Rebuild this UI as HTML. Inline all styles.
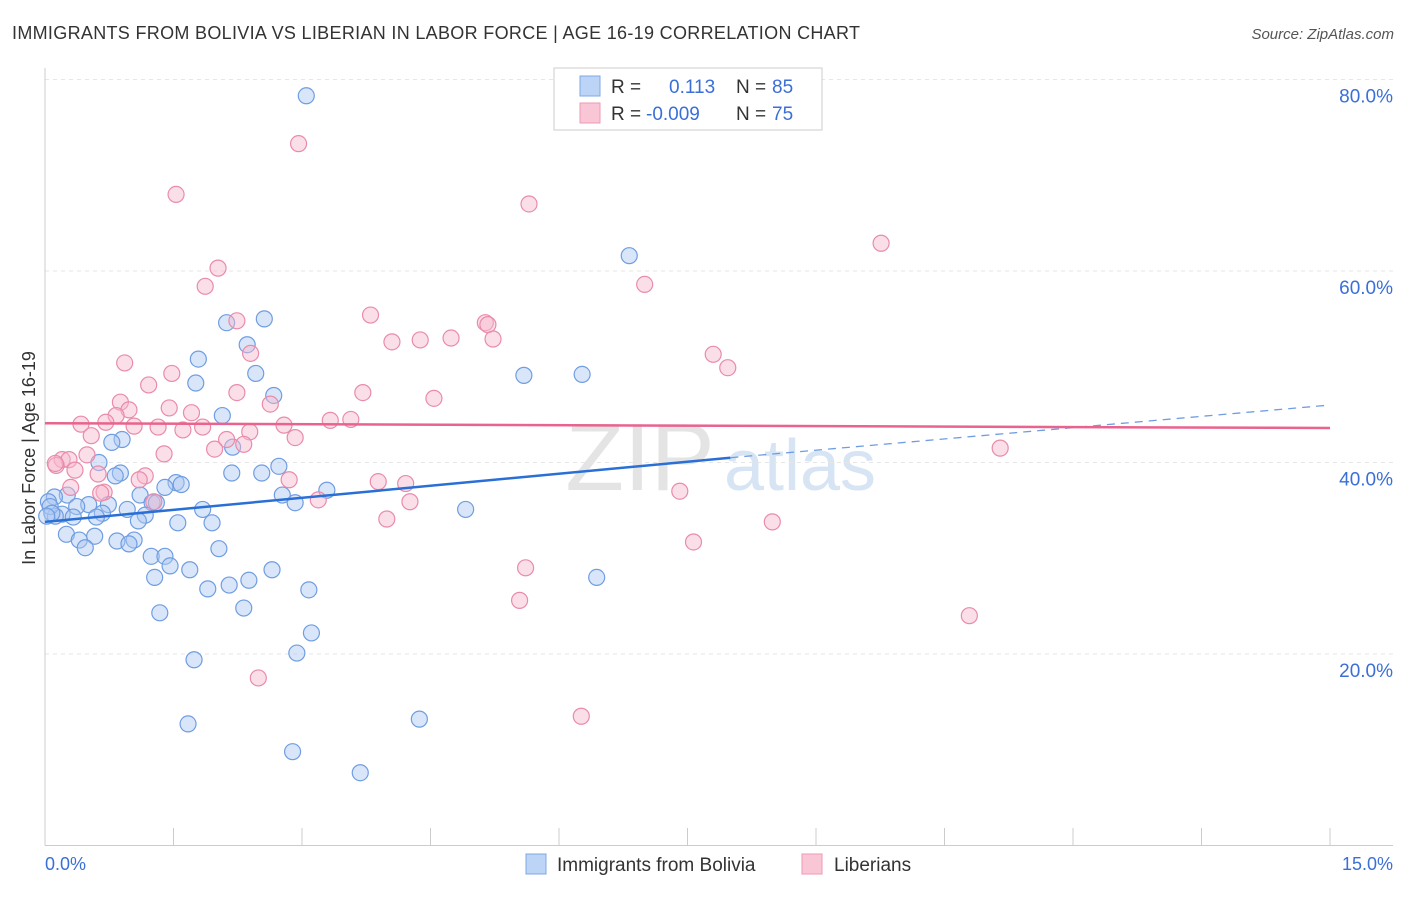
<!DOCTYPE html>
<html><head><meta charset="utf-8"><style>
body{margin:0;background:#fff;font-family:"Liberation Sans",sans-serif;}
svg text{font-family:"Liberation Sans",sans-serif;}
</style></head><body>
<svg id="chart" width="1406" height="892" xmlns="http://www.w3.org/2000/svg">
<text x="12" y="39" font-size="18" fill="#333" textLength="848" lengthAdjust="spacing">IMMIGRANTS FROM BOLIVIA VS LIBERIAN IN LABOR FORCE | AGE 16-19 CORRELATION CHART</text>
<text x="1394" y="39" font-size="15" fill="#555" font-style="italic" text-anchor="end">Source: ZipAtlas.com</text>
<text x="640" y="490" font-size="96" fill="#e4e4e4" font-family="Liberation Serif" text-anchor="middle">ZIP</text>
<text x="800" y="490" font-size="72" fill="#d6e4f4" text-anchor="middle">atlas</text>
<g id="grid"></g><g id="ticks"></g><g id="marks"></g>
<text x="35" y="458" font-size="18" fill="#333" transform="rotate(-90 35 458)" text-anchor="middle">In Labor Force | Age 16-19</text>
<text x="45" y="870" font-size="18" fill="#3a6fd8">0.0%</text>
<text x="1393" y="870" font-size="18" fill="#3a6fd8" text-anchor="end">15.0%</text>
<g>
<rect x="554" y="68" width="268" height="62" fill="#fff" stroke="#ccc"/>
<rect x="580" y="76" width="20" height="20" fill="#bcd4f6" stroke="#7fa7e6"/>
<rect x="580" y="103" width="20" height="20" fill="#f9c6d6" stroke="#ee99b5"/>
<text x="611" y="93" font-size="19" fill="#333">R =</text><text x="669" y="93" font-size="19" fill="#3a6fd8">0.113</text>
<text x="736" y="93" font-size="19" fill="#333">N =</text><text x="772" y="93" font-size="19" fill="#3a6fd8">85</text>
<text x="611" y="120" font-size="19" fill="#333">R =</text><text x="646" y="120" font-size="19" fill="#3a6fd8">-0.009</text>
<text x="736" y="120" font-size="19" fill="#333">N =</text><text x="772" y="120" font-size="19" fill="#3a6fd8">75</text>
</g>
<g>
<rect x="526" y="854" width="20" height="20" fill="#bcd4f6" stroke="#7fa7e6"/>
<text x="557" y="871" font-size="19" fill="#333">Immigrants from Bolivia</text>
<rect x="802" y="854" width="20" height="20" fill="#f9c6d6" stroke="#ee99b5"/>
<text x="834" y="871" font-size="19" fill="#333">Liberians</text>
</g>
</svg>
<script>
const yTicks=[20,40,60,80];
const xTickCount=10;
const blueX=[3.05,6.82,2.12,2.56,2.36,1.79,2.46,1.76,2.67,5.59,6.27,2.07,0.9,0.78,2.19,0.63,2.73,2.18,2.53,0.88,0.82,1.53,1.59,1.4,3.29,2.77,1.11,0.26,0.11,1.25,1.3,2.92,1.84,4.91,0.51,0.74,0.37,0.96,0.67,0.2,0.12,0.33,0.6,1.17,1.09,1.55,1.95,0.25,0.58,0.4,0.84,1.04,0.98,0.47,1.24,1.4,2.03,1.46,1.69,2.65,1.28,6.44,2.15,2.38,1.9,3.08,2.32,1.34,3.11,2.94,1.74,1.67,4.37,2.89,3.68,0.04,0.06,0.08,0.02];
const blueY=[78.3,61.6,54.6,55.0,52.3,50.8,49.3,48.3,47.0,49.1,49.2,44.9,42.4,42.1,41.6,40.0,39.6,38.9,38.9,38.9,38.6,37.9,37.7,37.4,37.1,36.6,36.6,36.6,36.4,35.8,35.8,35.8,35.1,35.1,35.6,35.6,35.4,35.1,34.7,34.6,34.4,34.3,34.3,34.5,33.9,33.7,33.7,32.5,32.3,31.9,31.8,31.9,31.5,31.1,30.2,30.2,31.0,29.2,28.8,28.8,28.0,28.0,27.2,27.7,26.8,26.7,24.8,24.3,22.2,20.1,19.4,12.7,13.2,9.8,7.6,35.9,35.4,34.7,34.4];
const pinkX=[2.96,1.53,5.65,9.76,2.02,7.0,1.87,3.8,2.24,5.14,5.17,4.05,4.38,4.74,5.23,2.4,7.8,7.97,0.93,1.48,1.21,3.71,2.24,0.88,4.54,2.63,0.98,1.45,0.83,1.71,0.42,0.71,3.33,3.57,1.32,1.61,1.84,2.79,1.04,0.54,2.92,2.39,2.12,2.32,1.98,1.39,0.49,0.2,0.28,0.13,0.35,0.62,2.85,3.89,4.21,1.17,1.1,0.69,0.3,0.65,1.27,3.19,4.26,7.41,3.99,8.49,7.57,5.61,5.54,10.79,2.49,6.26,11.15,0.12];
const pinkY=[73.3,68.0,67.0,62.9,60.3,58.6,58.4,55.4,54.8,54.6,54.4,52.6,52.8,53.0,52.9,51.4,51.3,49.9,50.4,49.3,48.1,47.3,47.3,46.3,46.7,46.1,45.5,45.7,44.9,45.2,44.0,44.2,44.4,44.5,43.7,43.4,43.7,43.9,43.8,42.8,42.6,43.2,42.4,41.9,41.4,40.9,40.8,40.3,40.3,39.7,39.2,38.8,38.2,38.0,37.8,38.6,38.2,36.9,37.4,36.8,35.9,36.1,35.9,37.0,34.1,33.8,31.7,29.0,25.6,24.0,17.5,13.5,41.5,39.9];
const blueTrend=[33.8,40.5];
const blueTrendEnd=46.0;
const pinkTrend=[44.1,43.6];
const NS="http://www.w3.org/2000/svg";
const X=v=>45+v*(1285/15), Y=v=>845.5-v*9.575;
function mk(tag,attrs,parent){const e=document.createElementNS(NS,tag);for(const k in attrs)e.setAttribute(k,attrs[k]);parent.appendChild(e);return e;}
const grid=document.getElementById('grid'),ticks=document.getElementById('ticks'),marks=document.getElementById('marks');
yTicks.forEach(t=>{
 const l=mk('line',{x1:45,x2:1393,y1:Y(t),y2:Y(t),stroke:'#e6e6e6','stroke-dasharray':'4,4'},grid);
 
 
 const tx=mk('text',{x:1393,y:Y(t)+23,'font-size':19,fill:'#3a6fd8','text-anchor':'end'},ticks);
 tx.textContent=t.toFixed(1)+'%';
 
 
});
const ax=mk('line',{x1:45,x2:1393,y1:845.5,y2:845.5,stroke:'#ccc'},ticks);


const ay=mk('line',{x1:45,x2:45,y1:68,y2:845.5,stroke:'#ccc'},ticks);


for(let i=0;i<=xTickCount;i++){const v=i*15/xTickCount;
 const t=mk('line',{x1:X(v),x2:X(v),y1:828,y2:845,stroke:'#ccc'},ticks);
 
 }
function pts(xs,ys,fill,stroke,name){xs.forEach((x,i)=>{
 const c=mk('circle',{cx:X(x),cy:Y(ys[i]),r:8,fill:fill,'fill-opacity':0.45,stroke:stroke,'stroke-width':1.2},marks);
 
 });}
pts(blueX,blueY,'#aac8f2','#6f9de2','bolivia-point');
pts(pinkX,pinkY,'#f6b8cc','#e98bab','liberian-point');
const b1=mk('line',{x1:X(0),y1:Y(blueTrend[0]),x2:X(8),y2:Y(blueTrend[1]),stroke:'#2a6fd6','stroke-width':2.5},marks);


const b2=mk('line',{x1:X(8),y1:Y(blueTrend[1]),x2:X(15),y2:Y(blueTrendEnd),stroke:'#6f9de2','stroke-width':1.3,'stroke-dasharray':'8,6'},marks);


const p1=mk('line',{x1:X(0),y1:Y(pinkTrend[0]),x2:X(15),y2:Y(pinkTrend[1]),stroke:'#e8638d','stroke-width':2.5},marks);


</script>
</body></html>
